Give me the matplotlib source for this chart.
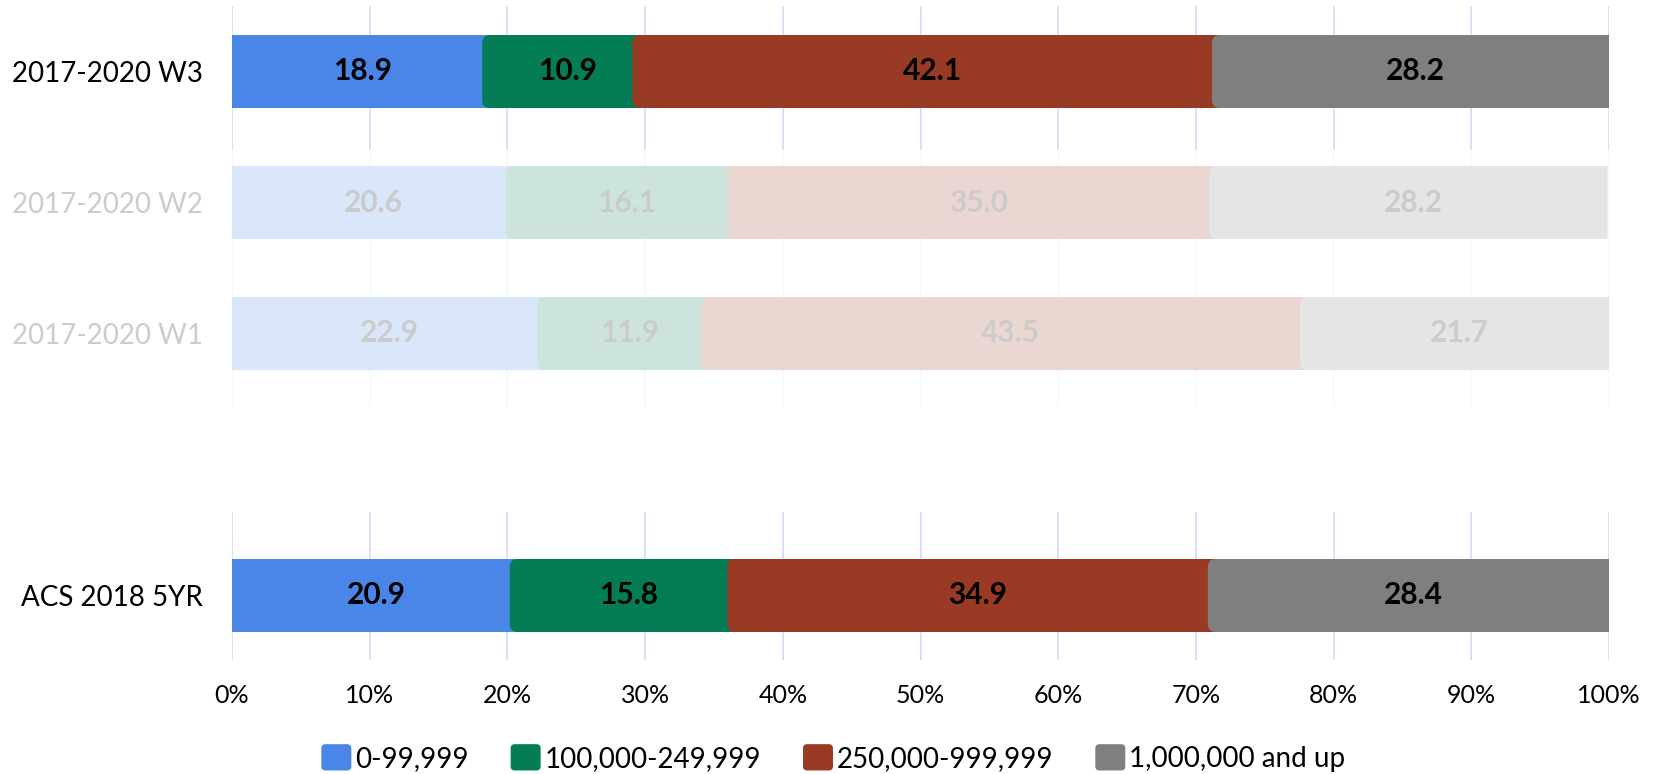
import matplotlib
matplotlib.use("Agg")
import matplotlib.pyplot as plt
import numpy as np
from matplotlib.patches import FancyBboxPatch, Patch, PathPatch
from matplotlib.path import Path
from matplotlib.legend_handler import HandlerPatch

plt.rcParams['font.family'] = ['Lato', 'DejaVu Sans']

# ---- data ----
top_categories = ["2017-2020 W3", "2017-2020 W2", "2017-2020 W1"]
bottom_categories = ["ACS 2018 5YR"]
series_names = ["0-99,999", "100,000-249,999", "250,000-999,999", "1,000,000 and up"]
top_values = [
    [18.9, 20.6, 22.9],   # 0-99,999
    [10.9, 16.1, 11.9],   # 100,000-249,999
    [42.1, 35.0, 43.5],   # 250,000-999,999
    [28.2, 28.2, 21.7],   # 1,000,000 and up
]
bottom_values = [[20.9], [15.8], [34.9], [28.4]]
x_ticks = [0, 10, 20, 30, 40, 50, 60, 70, 80, 90, 100]
x_tick_labels = [f"{t}%" for t in x_ticks]

colors = ["#4A86E8", "#047D57", "#993A24", "#7F7F7F"]
grid_color = "#D6E2F7"

W, H = 1655, 774
fig = plt.figure(figsize=(W / 100, H / 100), dpi=100)

x0_px, x1_px = 232, 1609
def add_ax(top_px, bot_px):
    return fig.add_axes([x0_px / W, (H - bot_px) / H, (x1_px - x0_px) / W, (bot_px - top_px) / H])

PPU = 131.0                   # pixels per category slot
ax_top = add_ax(6, 407)
ax_bot = add_ax(512, 660)

bar_h = 73 / PPU
ext = 0.73        # overlap of rounded segment starts (x units)
rx = 0.58         # rounding radius (x units)
ry = 0.061        # rounding radius (y units)


def left_round_path(x0, x1, y0, y1):
    verts = [(x0 + rx, y0), (x1, y0), (x1, y1), (x0 + rx, y1),
             (x0, y1), (x0, y1 - ry), (x0, y0 + ry), (x0, y0), (x0 + rx, y0), (x0 + rx, y0)]
    codes = [Path.MOVETO, Path.LINETO, Path.LINETO, Path.LINETO,
             Path.CURVE3, Path.CURVE3, Path.LINETO, Path.CURVE3, Path.CURVE3, Path.CLOSEPOLY]
    return Path(verts, codes)


def draw(ax, cats, vals, ylim):
    y = np.arange(len(cats))
    left = np.zeros(len(cats))
    for i, (name, v) in enumerate(zip(series_names, vals)):
        v = np.array(v, dtype=float)
        bars = ax.barh(y, v, left=left, height=bar_h, color=colors[i], zorder=2 + i,
                       label=name, snap=False, linewidth=0)
        if i > 0:
            for yy, l, w in zip(y, left, v):
                p = left_round_path(l - ext, l + min(w, 1.5), yy - bar_h / 2, yy + bar_h / 2)
                ax.add_patch(PathPatch(p, fc=colors[i], ec='none', lw=0, zorder=2 + i, snap=False))
        ax.bar_label(bars, labels=[f"{a:.1f}" for a in v], label_type='center',
                     fontsize=21.5, fontweight='bold', color='black', zorder=8)
        left = left + v
    ax.set_xlim(0, 100)
    ax.set_ylim(*ylim)
    ax.set_yticks(y)
    ax.set_yticklabels(cats, fontsize=20)
    ax.set_xticks(x_ticks)
    ax.grid(axis='x', color=grid_color, linewidth=1.4, zorder=0)
    ax.set_axisbelow(True)
    for s in ax.spines.values():
        s.set_visible(False)
    ax.tick_params(axis='both', length=0)
    ax.tick_params(axis='y', pad=21)


top_lo = len(top_categories) - 1 + bar_h / 2 + 37 / PPU
draw(ax_top, top_categories, top_values, (top_lo, top_lo - 401 / PPU))
bot_lo = bar_h / 2 + 28 / PPU
draw(ax_bot, bottom_categories, bottom_values, (bot_lo, bot_lo - 148 / PPU))

ax_top.set_xticklabels([])
ax_bot.set_xticklabels(x_tick_labels, fontsize=18)
ax_bot.tick_params(axis='x', pad=17)

# fade the older waves
ax_top.axhspan(0.6, top_lo, color='white', alpha=0.8, zorder=20, lw=0)
for lbl in ax_top.get_yticklabels():
    if lbl.get_text() != top_categories[0]:
        lbl.set_color("#CCCCCC")
    else:
        lbl.set_color("black")


def make_round(legend, orig_handle, xdescent, ydescent, width, height, fontsize):
    return FancyBboxPatch((-xdescent, -ydescent), width, height,
                          boxstyle="round,pad=0,rounding_size=3")


handles = [Patch(facecolor=c, edgecolor='none', label=n) for c, n in zip(colors, series_names)]
fig.legend(handles=handles, loc='center', bbox_to_anchor=(0.5036, 0.0207), ncol=4,
           frameon=False, fontsize=20, handlelength=1.08, handleheight=1.08,
           handletextpad=0.15, columnspacing=1.5,
           handler_map={Patch: HandlerPatch(patch_func=make_round)})

fig.savefig("out.png", dpi=100)
